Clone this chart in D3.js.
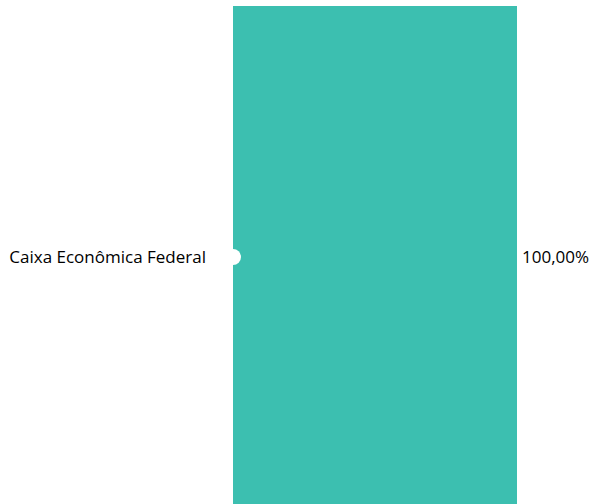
<!DOCTYPE html>
<html><head><meta charset="utf-8">
<script src="https://cdn.jsdelivr.net/npm/d3@7"></script>
<style>html,body{margin:0;padding:0;background:#fff;overflow:hidden}</style>
</head><body>
<script>
const categories = ["Caixa Econômica Federal"];
const values = [100];
const valueLabels = ["100,00%"];

const W = 590, H = 504;
const svg = d3.select("body").append("svg").attr("width", W).attr("height", H);
const x = d3.scaleLinear().domain([0, 100]).range([233, 517]);
const y = d3.scaleBand().domain(categories).range([6, 508]).padding(0);

svg.selectAll("rect.bar").data(categories).join("rect")
  .attr("class","bar")
  .attr("x", x(0)).attr("y", d => y(d))
  .attr("width", (d,i) => x(values[i]) - x(0))
  .attr("height", y.bandwidth())
  .attr("fill", "#3cbfb0");

svg.selectAll("circle.dot").data(categories).join("circle")
  .attr("cx", x(0)).attr("cy", d => y(d) + y.bandwidth()/2)
  .attr("r", 8).attr("fill", "#fff");

svg.selectAll("text.cat").data(categories).join("text")
  .attr("x", 206).attr("y", d => y(d) + y.bandwidth()/2)
  .attr("dy", "0.35em").attr("text-anchor", "end")
  .attr("font-family", "Open Sans").attr("font-size", 17).attr("fill", "#000")
  .text(d => d);

svg.selectAll("text.val").data(categories).join("text")
  .attr("x", 522).attr("y", d => y(d) + y.bandwidth()/2)
  .attr("dy", "0.35em")
  .attr("font-family", "Open Sans").attr("font-size", 17).attr("fill", "#000")
  .text((d,i) => valueLabels[i]);
</script>
</body></html>
